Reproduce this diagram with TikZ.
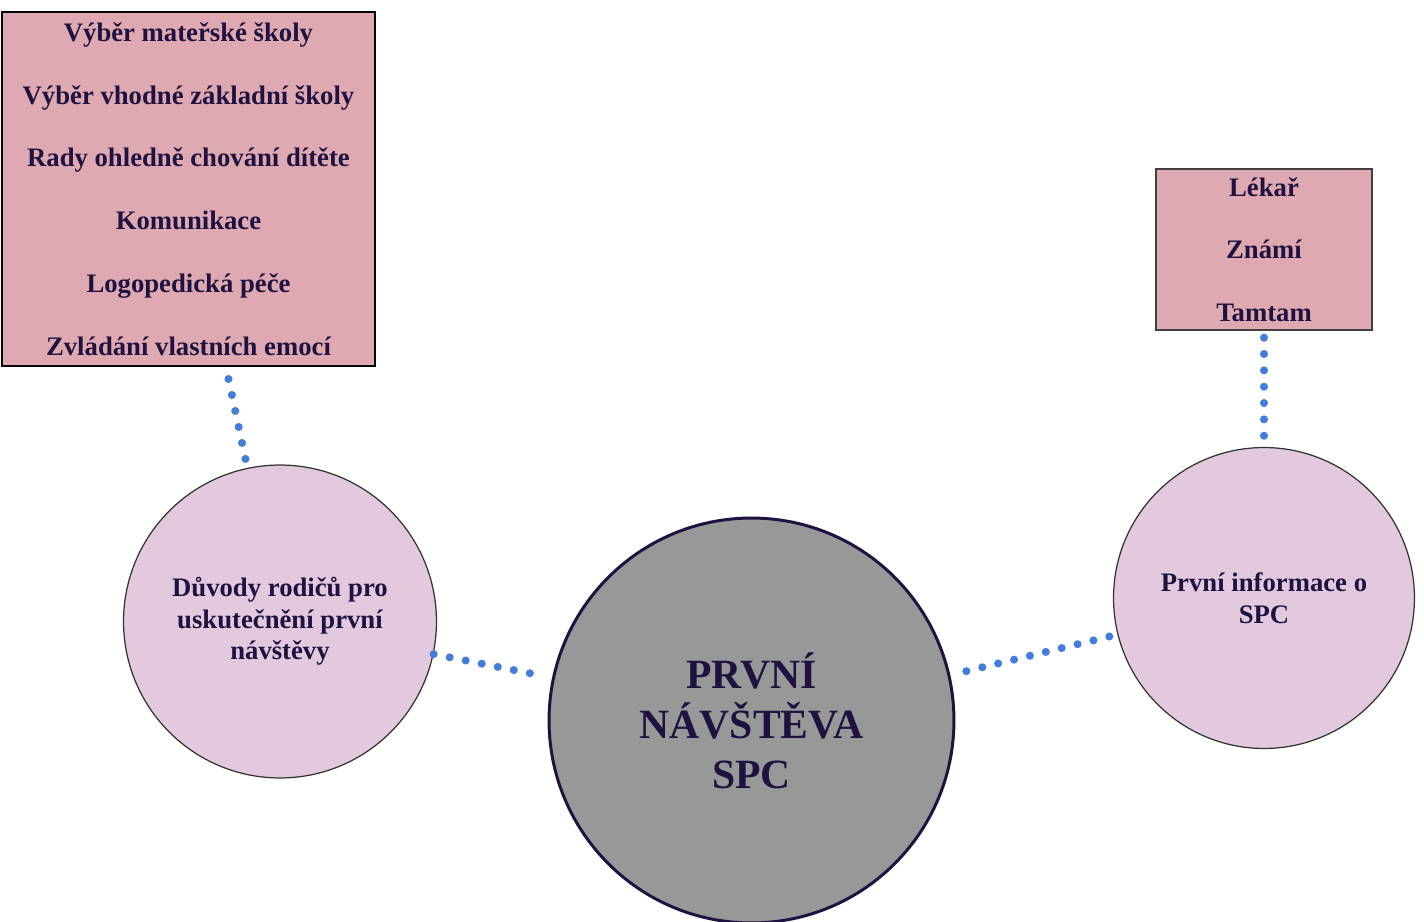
\documentclass[tikz,border=0pt]{standalone}
\usepackage{fontspec}
\setmainfont{Liberation Serif}
\definecolor{inkt}{RGB}{32,18,64}
\definecolor{ruzova}{RGB}{223,169,177}
\definecolor{lila}{RGB}{226,201,222}
\definecolor{seda}{RGB}{152,152,152}
\definecolor{modra}{RGB}{66,125,217}
\begin{document}
\begin{tikzpicture}[x=0.02cm, y=-0.02cm,
	box/.style = {draw, rectangle, fill=ruzova, inner sep=0pt, align=center, text=inkt, font=\fontsize{15.2pt}{35.7pt}\selectfont\bfseries},
	bubble/.style = {draw=black!80, line width=0.7pt, circle, fill=lila, inner sep=0pt, align=center, text=inkt, font=\fontsize{15.2pt}{18pt}\selectfont\bfseries},
	core/.style = {draw=inkt, line width=1.7pt, circle, fill=seda, inner sep=0pt, minimum size=8.1cm, align=center, text=inkt, font=\fontsize{23.7pt}{28.4pt}\selectfont\bfseries},
	tecky/.style = {draw=modra, line width=4.6pt, line cap=round, dash pattern=on 0pt off 9.3pt}]
		\useasboundingbox (0,0) rectangle (1424,922);
		\node[box, line width=1.2pt, minimum width=7.46cm, minimum height=7.08cm] (potreby) at (188.5,189) {Výběr mateřské školy\\Výběr vhodné základní školy\\Rady ohledně chování dítěte\\Komunikace\\Logopedická péče\\Zvládání vlastních emocí};
		\node[box, draw=black!75, line width=0.8pt, minimum width=4.32cm, minimum height=3.22cm] (zdroje) at (1264,249.5) {Lékař\\Známí\\Tamtam};
		\node[bubble, minimum size=6.26cm] (duvody) at (280,621.5) {Důvody rodičů pro\\uskutečnění první\\návštěvy};
		\node[bubble, minimum size=6.02cm] (info) at (1264,598) {První informace o\\SPC};
		\node[core] (spc) at (751.5,720.5) {PRVNÍ\\NÁVŠTĚVA\\SPC};
		\draw[tecky] ([xshift=0.8cm,yshift=-0.24cm]potreby.south) -- (duvody.102);
		\draw[tecky] (duvody.-12) -- ([xshift=-0.32cm]spc.167);
		\draw[tecky] ([xshift=0.34cm]spc.14) -- (info.194);
		\draw[tecky] ([yshift=-0.14cm]zdroje.south) -- (info.north);
	\end{tikzpicture}
\end{document}
